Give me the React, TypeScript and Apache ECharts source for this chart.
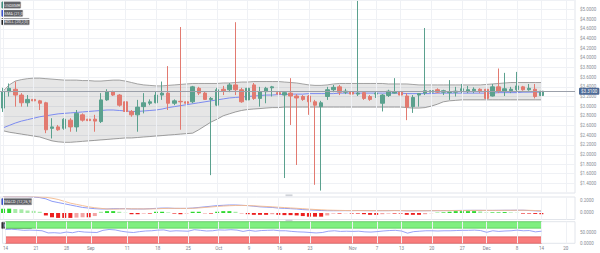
import React, { useEffect, useRef } from 'react';
import * as echarts from 'echarts';

const symbolName = 'USDXMR';
const startDate = '2023-08-14';
const emptyTradingDays = 5;

// [open, close, low, high] per trading day
const ohlc: number[][] = [
  [2.96, 3.30, 2.88, 3.38], [3.30, 3.37, 3.20, 3.47], [3.35, 3.23, 2.99, 3.51], [3.23, 3.07, 2.99, 3.27],
  [3.07, 3.14, 2.99, 3.23], [3.14, 3.11, 2.99, 3.18], [3.11, 3.06, 2.92, 3.13], [3.07, 2.51, 2.44, 3.09],
  [2.54, 2.57, 2.33, 2.75], [2.57, 2.51, 2.49, 2.61], [2.54, 2.73, 2.51, 2.75], [2.71, 2.57, 2.47, 2.75],
  [2.57, 2.85, 2.47, 2.92], [2.82, 2.71, 2.68, 2.85], [2.73, 2.70, 2.65, 2.82], [2.73, 2.69, 2.47, 2.82],
  [2.68, 3.13, 2.65, 3.27], [3.13, 3.30, 3.11, 3.35], [3.30, 3.23, 3.21, 3.32], [3.23, 3.02, 2.99, 3.25],
  [3.09, 2.89, 2.82, 3.13], [2.89, 2.82, 2.78, 2.92], [2.82, 2.98, 2.47, 3.13], [2.99, 3.07, 2.85, 3.27],
  [3.06, 3.09, 3.02, 3.14], [3.07, 3.23, 3.06, 3.30], [3.23, 3.27, 3.13, 3.51], [3.27, 3.06, 2.92, 3.83],
  [3.06, 3.11, 3.02, 3.14], [3.10, 3.09, 2.51, 4.64], [3.09, 3.06, 3.02, 3.11], [3.09, 3.40, 3.06, 3.42],
  [3.37, 3.27, 3.23, 3.40], [3.27, 3.14, 3.13, 3.30], [3.14, 3.16, 1.57, 3.19], [3.02, 3.34, 3.00, 3.38],
  [3.35, 3.32, 3.23, 3.42], [3.34, 3.44, 3.29, 3.48], [3.44, 3.34, 3.23, 4.74], [3.34, 3.09, 3.07, 3.38],
  [3.13, 3.37, 3.11, 3.42], [3.44, 3.16, 3.13, 3.48], [3.16, 3.30, 2.99, 3.40], [3.30, 3.37, 3.06, 3.40],
  [3.38, 3.40, 3.20, 3.42], [3.28, 3.25, 3.21, 3.31], [3.23, 3.28, 1.51, 3.29], [3.27, 3.21, 2.61, 3.58],
  [3.21, 3.17, 1.78, 3.25], [3.20, 3.14, 3.11, 3.23], [3.21, 3.09, 2.82, 3.23], [3.09, 3.02, 1.37, 3.13],
  [2.99, 3.07, 1.25, 3.11], [3.20, 3.34, 3.13, 3.40], [3.34, 3.39, 3.29, 3.44], [3.40, 3.29, 3.23, 3.44],
  [3.29, 3.31, 3.25, 3.36], [3.30, 3.25, 3.21, 3.34], [3.25, 3.27, 3.21, 5.18], [3.28, 3.16, 3.13, 3.31],
  [3.20, 3.14, 3.11, 3.23], [3.25, 3.27, 3.17, 3.29], [3.06, 3.23, 2.89, 3.25], [3.22, 3.31, 3.19, 3.34],
  [3.27, 3.30, 3.26, 3.58], [3.29, 3.23, 3.21, 3.31], [3.21, 2.98, 2.71, 3.27], [2.99, 3.18, 2.86, 3.23],
  [3.23, 3.26, 2.99, 3.27], [3.27, 3.32, 3.23, 4.62], [3.29, 3.32, 3.25, 3.42], [3.34, 3.29, 3.27, 3.37],
  [3.29, 3.32, 3.23, 3.34], [3.28, 3.30, 3.13, 3.54], [3.29, 3.31, 3.20, 3.40], [3.32, 3.36, 3.27, 3.46],
  [3.30, 3.34, 3.27, 3.42], [3.32, 3.35, 3.27, 3.39], [3.35, 3.32, 3.27, 3.37], [3.35, 3.16, 3.09, 3.40],
  [3.21, 3.40, 3.20, 3.46], [3.40, 3.30, 3.27, 3.78], [3.31, 3.36, 3.21, 3.69], [3.32, 3.35, 3.27, 3.40],
  [3.34, 3.42, 3.31, 3.71], [3.40, 3.34, 3.32, 3.42], [3.34, 3.37, 3.32, 3.46], [3.35, 3.20, 3.16, 3.46],
  [3.22, 3.31, 3.13, 3.34],
];

const bollUpper = [
  3.31, 3.44, 3.52, 3.55, 3.57, 3.58, 3.58, 3.57, 3.56, 3.55,
  3.54, 3.54, 3.54, 3.53, 3.53, 3.52, 3.52, 3.53, 3.54, 3.54,
  3.52, 3.49, 3.46, 3.44, 3.43, 3.42, 3.42, 3.43, 3.44, 3.45,
  3.46, 3.47, 3.47, 3.47, 3.47, 3.47, 3.48, 3.48, 3.49, 3.50,
  3.50, 3.51, 3.51, 3.51, 3.51, 3.51, 3.50, 3.49, 3.48, 3.46,
  3.44, 3.43, 3.43, 3.44, 3.46, 3.47, 3.47, 3.47, 3.47, 3.47,
  3.47, 3.47, 3.47, 3.46, 3.46, 3.46, 3.46, 3.45, 3.44, 3.44,
  3.44, 3.44, 3.44, 3.44, 3.44, 3.44, 3.44, 3.44, 3.44, 3.45,
  3.46, 3.47, 3.48, 3.49, 3.49, 3.49, 3.49, 3.49, 3.49,
];

const bollLower = [
  2.49, 2.46, 2.44, 2.42, 2.40, 2.38, 2.36, 2.32, 2.28, 2.26,
  2.25, 2.25, 2.26, 2.27, 2.28, 2.29, 2.30, 2.31, 2.32, 2.33,
  2.34, 2.34, 2.35, 2.36, 2.37, 2.38, 2.39, 2.40, 2.41, 2.42,
  2.43, 2.44, 2.51, 2.59, 2.67, 2.73, 2.80, 2.84, 2.88, 2.91,
  2.93, 2.94, 2.95, 2.96, 2.97, 2.97, 2.98, 2.98, 2.98, 2.98,
  2.98, 2.98, 2.98, 2.98, 2.98, 2.98, 2.98, 2.98, 2.98, 2.98,
  2.98, 2.98, 2.98, 2.98, 2.98, 2.98, 2.97, 2.96, 2.96, 2.97,
  3.00, 3.04, 3.09, 3.11, 3.12, 3.13, 3.13, 3.13, 3.13, 3.13,
  3.13, 3.13, 3.13, 3.13, 3.13, 3.13, 3.13, 3.13, 3.13,
];

const sma21 = [
  2.55, 2.60, 2.65, 2.69, 2.72, 2.75, 2.78, 2.80, 2.82, 2.84,
  2.85, 2.86, 2.87, 2.88, 2.89, 2.90, 2.91, 2.92, 2.92, 2.91,
  2.90, 2.89, 2.89, 2.90, 2.91, 2.92, 2.94, 2.97, 2.99, 3.01,
  3.03, 3.05, 3.07, 3.09, 3.11, 3.13, 3.15, 3.17, 3.18, 3.19,
  3.20, 3.21, 3.22, 3.23, 3.23, 3.24, 3.24, 3.25, 3.25, 3.25,
  3.26, 3.26, 3.26, 3.26, 3.26, 3.27, 3.27, 3.27, 3.27, 3.27,
  3.27, 3.27, 3.27, 3.27, 3.27, 3.27, 3.26, 3.26, 3.26, 3.26,
  3.26, 3.27, 3.27, 3.27, 3.27, 3.27, 3.27, 3.27, 3.27, 3.27,
  3.27, 3.28, 3.28, 3.28, 3.28, 3.29, 3.29, 3.29, 3.29,
];

const macdLine = [
  0.265, 0.265, 0.265, 0.265, 0.265, 0.26, 0.25, 0.23, 0.19, 0.17,
  0.15, 0.13, 0.11, 0.09, 0.08, 0.07, 0.065, 0.065, 0.07, 0.07,
  0.07, 0.065, 0.065, 0.065, 0.07, 0.075, 0.08, 0.08, 0.075, 0.075,
  0.075, 0.08, 0.09, 0.10, 0.11, 0.12, 0.125, 0.13, 0.13, 0.125,
  0.12, 0.11, 0.10, 0.095, 0.09, 0.08, 0.075, 0.07, 0.065, 0.055,
  0.05, 0.045, 0.04, 0.037, 0.037, 0.037, 0.038, 0.038, 0.04, 0.038,
  0.037, 0.037, 0.038, 0.038, 0.04, 0.038, 0.035, 0.035, 0.036, 0.037,
  0.038, 0.038, 0.039, 0.04, 0.041, 0.042, 0.043, 0.043, 0.043, 0.042,
  0.042, 0.043, 0.044, 0.044, 0.045, 0.045, 0.04, 0.035, 0.03,
];

const signalLine = [
  0.265, 0.265, 0.265, 0.265, 0.265, 0.265, 0.26, 0.255, 0.24, 0.22,
  0.19, 0.16, 0.14, 0.12, 0.10, 0.085, 0.075, 0.065, 0.062, 0.065,
  0.068, 0.068, 0.067, 0.066, 0.066, 0.068, 0.072, 0.075, 0.075, 0.074,
  0.074, 0.076, 0.082, 0.09, 0.098, 0.106, 0.113, 0.118, 0.122, 0.123,
  0.121, 0.117, 0.111, 0.106, 0.10, 0.094, 0.088, 0.082, 0.076, 0.07,
  0.063, 0.057, 0.052, 0.047, 0.044, 0.042, 0.04, 0.039, 0.039, 0.039,
  0.039, 0.038, 0.038, 0.038, 0.039, 0.039, 0.038, 0.037, 0.037, 0.037,
  0.037, 0.038, 0.038, 0.039, 0.04, 0.04, 0.041, 0.042, 0.042, 0.042,
  0.042, 0.042, 0.043, 0.043, 0.044, 0.044, 0.043, 0.04, 0.037,
];

const macdHist = [
  0.07, 0.07, 0.065, 0.06, 0.04, 0.035, 0.02, -0.04, -0.07, -0.08,
  -0.08, -0.08, -0.075, -0.07, -0.07, -0.05, 0.02, 0.03, 0.03, 0.02,
  0.005, -0.02, -0.02, -0.01, -0.01, 0.02, 0.02, 0.01, -0.01, -0.02,
  -0.01, 0.02, 0.02, -0.01, -0.01, 0.02, 0.03, 0.03, 0.02, -0.01,
  -0.02, -0.03, -0.03, -0.03, -0.02, -0.03, -0.035, -0.035, -0.04, -0.05,
  -0.06, -0.06, -0.06, -0.04, -0.01, -0.01, -0.005, -0.01, -0.01, -0.02,
  -0.03, -0.03, -0.02, -0.01, -0.01, -0.01, -0.03, -0.03, -0.03, -0.02,
  -0.005, 0.005, 0.01, 0.02, 0.03, 0.03, 0.03, 0.03, 0.025, 0.01,
  0.01, 0.01, 0.015, 0.01, 0.005, -0.01, -0.01, -0.015, -0.02,
];

const rsi = [
  64, 65, 63, 60, 61, 60, 58, 48, 49, 47,
  52, 49, 55, 52, 51, 50, 60, 64, 62, 56,
  52, 50, 54, 57, 58, 61, 62, 56, 58, 57,
  56, 63, 60, 57, 58, 62, 61, 63, 61, 55,
  60, 56, 59, 60, 61, 58, 58, 55, 53, 52,
  50, 48, 50, 56, 58, 55, 56, 55, 56, 53,
  52, 54, 57, 59, 60, 57, 47, 54, 56, 58,
  58, 57, 58, 58, 59, 60, 60, 61, 59, 51,
  58, 55, 57, 58, 61, 58, 59, 53, 56,
];

const rsiUpperZone = [70, 100];
const rsiLowerZone = [0, 30];

const tickLabels: Record<string, string> = {
  '2023-08-14': '14', '2023-08-21': '21', '2023-08-28': '28', '2023-09-01': 'Sep',
  '2023-09-11': '11', '2023-09-18': '18', '2023-09-25': '25', '2023-10-02': 'Oct',
  '2023-10-09': '9', '2023-10-16': '16', '2023-10-23': '23', '2023-11-01': 'Nov',
  '2023-11-07': '7', '2023-11-13': '13', '2023-11-20': '20', '2023-11-27': '27',
  '2023-12-01': 'Dec', '2023-12-08': '8', '2023-12-14': '14', '2023-12-20': '20',
};

const priceMin = 1.2;
const priceMax = 5.2;
const priceStep = 0.2;
const macdLabelValues = [0, 0.2];

function tradingDays(start: string, count: number): string[] {
  const out: string[] = [];
  const d = new Date(start + 'T00:00:00Z');
  while (out.length < count) {
    const wd = d.getUTCDay();
    if (wd !== 0 && wd !== 6) out.push(d.toISOString().slice(0, 10));
    d.setUTCDate(d.getUTCDate() + 1);
  }
  return out;
}

const FONT = 'Roboto, "Noto Sans", sans-serif';
const UP = '#5ba18e';
const DOWN = '#e27a70';
const GRIDLINE = '#eff1f5';

function legendBox(x: number, y: number, w: number, text: string, accent: string) {
  return {
    type: 'group',
    x,
    y,
    children: [
      { type: 'rect', shape: { x: 0, y: 0, width: w, height: 6.4, r: 0.6 }, style: { fill: '#5f6167', stroke: '#8a8c90', lineWidth: 0.4 } },
      { type: 'rect', shape: { x: 0, y: 0, width: 1.1, height: 6.4 }, style: { fill: accent } },
      { type: 'text', x: 2.6, y: 3.3, style: { text, fill: '#eeeeee', fontSize: 4, fontFamily: FONT, verticalAlign: 'middle', align: 'left' } },
    ],
  };
}

export default function App() {
  const ref = useRef<HTMLDivElement>(null);

  useEffect(() => {
    if (!ref.current) return;
    const chart = echarts.init(ref.current, null, { renderer: 'svg' });
    const dates = tradingDays(startDate, ohlc.length + emptyTradingDays);
    const candleDates = dates.slice(0, ohlc.length);
    const lastIdx = ohlc.length - 1;
    const lastClose = ohlc[lastIdx][1];
    const bandWidth = bollUpper.map((u, i) => Number((u - bollLower[i]).toFixed(4)));
    const labelled = dates.filter((d) => tickLabels[d] !== undefined);
    const vLines = (lbl: string[]) => ({
      silent: true,
      symbol: 'none',
      label: { show: false },
      lineStyle: { color: GRIDLINE, width: 1, type: 'solid' },
      data: lbl.map((d) => ({ xAxis: d })),
    });
    const histColors = macdHist.map((v, i) => {
      const prev = i > 0 ? Math.abs(macdHist[i - 1]) : 0;
      const strong = Math.abs(v) >= prev;
      if (v >= 0) return strong ? '#2fd82f' : '#a8eaa8';
      return strong ? '#ec2020' : '#f3a4a4';
    });

    const xBase = {
      type: 'category',
      data: dates,
      boundaryGap: true,
      axisLine: { show: false },
      axisTick: { show: false },
      splitLine: { show: false },
    };
    const gridBase = { left: -2, width: 577, show: true, borderColor: '#e2e5eb', borderWidth: 1, backgroundColor: 'transparent' };
    const labelStyle = { fontSize: 4.5, color: '#8a8e96', fontFamily: FONT, margin: 5 };

    chart.setOption({
      animation: false,
      backgroundColor: '#ffffff',
      grid: [
        { ...gridBase, top: 0, height: 193 },
        { ...gridBase, top: 197, height: 22.5 },
        { ...gridBase, top: 221.7, height: 21.6 },
      ],
      xAxis: [
        { ...xBase, gridIndex: 0, axisLabel: { show: false } },
        { ...xBase, gridIndex: 1, axisLabel: { show: false } },
        {
          ...xBase,
          gridIndex: 2,
          axisLabel: {
            show: true,
            fontSize: 4.5,
            color: '#7d818a',
            fontFamily: FONT,
            margin: 3,
            interval: (_i: number, v: string) => tickLabels[v] !== undefined,
            formatter: (v: string) => tickLabels[v] ?? '',
          },
        },
      ],
      yAxis: [
        {
          type: 'value', gridIndex: 0, position: 'right', min: priceMin, max: priceMax, interval: priceStep,
          axisLine: { show: false }, axisTick: { show: false },
          splitLine: { show: true, lineStyle: { color: GRIDLINE, width: 1 } },
          axisLabel: { ...labelStyle, showMinLabel: false, showMaxLabel: false, formatter: (v: number) => '$' + v.toFixed(4) },
        },
        {
          type: 'value', gridIndex: 1, position: 'right', min: -0.106, max: 0.26,
          axisLine: { show: false }, axisTick: { show: false }, splitLine: { show: false },
          axisLabel: { ...labelStyle, customValues: macdLabelValues, formatter: (v: number) => v.toFixed(4) },
        },
        {
          type: 'value', gridIndex: 2, position: 'right', min: 0, max: 100, interval: 50,
          axisLine: { show: false }, axisTick: { show: false }, splitLine: { show: false },
          axisLabel: { ...labelStyle, showMaxLabel: false, formatter: (v: number) => v.toFixed(4) },
        },
      ],
      series: [
        {
          name: 'bollLower', type: 'line', xAxisIndex: 0, yAxisIndex: 0, data: bollLower, stack: 'boll',
          symbol: 'none', z: 1, lineStyle: { color: '#8d8d8d', width: 0.8 }, markLine: vLines(labelled),
        },
        {
          name: 'bollUpper', type: 'line', xAxisIndex: 0, yAxisIndex: 0, data: bandWidth, stack: 'boll',
          symbol: 'none', z: 2, lineStyle: { color: '#8d8d8d', width: 0.8 }, areaStyle: { color: 'rgba(0,0,0,0.14)' },
        },
        {
          name: 'sma', type: 'line', xAxisIndex: 0, yAxisIndex: 0, data: sma21, symbol: 'none', z: 3,
          lineStyle: { color: '#7c8bf0', width: 1 },
        },
        {
          name: symbolName, type: 'candlestick', xAxisIndex: 0, yAxisIndex: 0, z: 4,
          data: ohlc.map((d, i) => [candleDates[i], ...d]).map((r) => r.slice(1)),
          barWidth: 4,
          itemStyle: { color: UP, color0: DOWN, borderColor: UP, borderColor0: DOWN, borderWidth: 1 },
          markLine: {
            silent: true, symbol: 'none',
            lineStyle: { color: '#9ba0aa', width: 1, type: 'solid' },
            label: {
              show: true, position: 'end', distance: 4,
              formatter: () => '$' + lastClose.toFixed(4),
              backgroundColor: '#4d6a96', color: '#ffffff', fontSize: 4.5, fontFamily: FONT,
              padding: [1, 2, 1, 2], borderRadius: 1,
            },
            data: [{ yAxis: lastClose }],
          },
        },
        {
          name: 'hist', type: 'bar', xAxisIndex: 1, yAxisIndex: 1, barWidth: 4,
          data: macdHist.map((v, i) => ({ value: v, itemStyle: { color: histColors[i] } })),
          markLine: vLines(labelled),
        },
        {
          name: 'macd', type: 'line', xAxisIndex: 1, yAxisIndex: 1, data: macdLine, symbol: 'none',
          lineStyle: { color: '#8090f4', width: 0.9 },
        },
        {
          name: 'signal', type: 'line', xAxisIndex: 1, yAxisIndex: 1, data: signalLine, symbol: 'none',
          lineStyle: { color: '#f4b98c', width: 0.9 },
        },
        {
          name: 'rsi', type: 'line', xAxisIndex: 2, yAxisIndex: 2, data: rsi, symbol: 'none', z: 5,
          lineStyle: { color: '#8d98f5', width: 0.9 },
          markLine: vLines(labelled),
          markArea: {
            silent: true,
            data: [
              [
                { xAxis: candleDates[0], yAxis: rsiUpperZone[0], itemStyle: { color: '#80ef80', borderColor: '#3fbf3f', borderWidth: 0.6 } },
                { xAxis: candleDates[lastIdx], yAxis: rsiUpperZone[1] },
              ],
              [
                { xAxis: candleDates[0], yAxis: rsiLowerZone[0], itemStyle: { color: '#f87c7c', borderColor: '#d04a4a', borderWidth: 0.6 } },
                { xAxis: candleDates[lastIdx], yAxis: rsiLowerZone[1] },
              ],
            ],
          },
        },
      ],
      graphic: [
        legendBox(1.7, 1.8, 19, symbolName, '#2e9d86'),
        legendBox(1.7, 10, 21, 'SMA (21,0)', '#2f4cf0'),
        legendBox(1.7, 18.4, 27.6, 'BOLL (20,2,0)', '#111111'),
        legendBox(1.7, 198.4, 30, 'MACD (12,26,9)', '#2f4cf0'),
        legendBox(1.7, 222.2, 30, 'RSI (14,70,30)', '#222222'),
        { type: 'rect', shape: { x: 285.5, y: 194.4, width: 7, height: 1.8 }, style: { fill: '#cfd2d8' } },
        { type: 'rect', shape: { x: 285.5, y: 219.6, width: 7, height: 1.8 }, style: { fill: '#cfd2d8' } },
      ],
    });
    return () => chart.dispose();
  }, []);

  return <div ref={ref} style={{ position: 'fixed', left: 0, top: 0, width: 600, height: 253 }} />;
}
